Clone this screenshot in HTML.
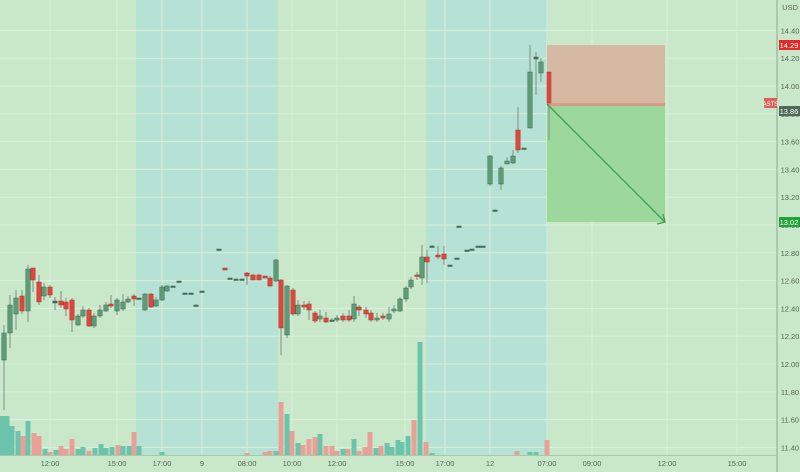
<!DOCTYPE html>
<html><head><meta charset="utf-8"><style>
html,body{margin:0;padding:0;background:#c9e8c9;}
svg{display:block;font-family:"Liberation Sans",sans-serif;}
</style></head><body>
<svg id="s" width="800" height="472" viewBox="0 0 800 472" xmlns="http://www.w3.org/2000/svg">
<rect width="800" height="472" fill="#c9e8c9"/>
<rect x="136" y="0" width="142" height="456" fill="#b5e2d4"/>
<rect x="426" y="0" width="122" height="456" fill="#b5e2d4"/>
<g id="grid" stroke="#daf0da" stroke-width="1"></g>
<g id="vol"></g>
<g id="cdl"></g>
<rect x="547" y="45" width="118" height="59" fill="#d6b9a3"/>
<rect x="547" y="103" width="118" height="3" fill="#d99a8a"/>
<rect x="547" y="106" width="118" height="116" fill="#9cd89c"/>
<line x1="547" y1="104" x2="665" y2="222" stroke="#3f9a4f" stroke-width="1.3"/>
<polyline points="657,224 665,222 663,214" fill="none" stroke="#3f9a4f" stroke-width="1.3"/>
<rect x="547" y="72" width="4" height="31" fill="#e0463c" stroke="#a33" stroke-width="0.5"/>
<line x1="549" y1="103" x2="549" y2="140" stroke="#888"/>
<line x1="777" y1="0" x2="777" y2="472" stroke="#8fa88f"/>
<line x1="0" y1="455.5" x2="777" y2="455.5" stroke="#a8c8a8"/>
<g font-size="7.5" fill="#556655" id="plab">
<text x="790" y="10" text-anchor="middle">USD</text>
</g>
<rect x="779" y="40" width="21" height="10" fill="#e02a2a"/>
<text x="789" y="48" font-size="7.5" fill="#fff" text-anchor="middle">14.29</text>
<rect x="764" y="98" width="13" height="10" fill="#e0605a"/>
<text x="770.5" y="106" font-size="6" fill="#fff" text-anchor="middle">ASTS</text>
<rect x="779" y="106" width="21" height="10" fill="#4f6a5a"/>
<text x="789" y="114" font-size="7.5" fill="#fff" text-anchor="middle">13.86</text>
<rect x="779" y="217" width="21" height="10" fill="#22a33a"/>
<text x="789" y="225" font-size="7.5" fill="#fff" text-anchor="middle">13.02</text>
<g font-size="7.5" fill="#556655" text-anchor="middle">
<text x="50" y="466">12:00</text><text x="117" y="466">15:00</text><text x="162" y="466">17:00</text>
<text x="202" y="466">9</text><text x="247" y="466">08:00</text><text x="292" y="466">10:00</text>
<text x="337" y="466">12:00</text><text x="405" y="466">15:00</text><text x="445" y="466">17:00</text>
<text x="490" y="466">12</text><text x="547" y="466">07:00</text><text x="592" y="466">09:00</text>
<text x="667" y="466">12:00</text><text x="737" y="466">15:00</text>
</g>
</svg>
<script>
var NS="http://www.w3.org/2000/svg";
function el(p,t,a){var e=document.createElementNS(NS,t);for(var k in a)e.setAttribute(k,a[k]);document.getElementById(p).appendChild(e);return e;}
var pl=document.getElementById('plab');
for(var i=0;i<16;i++){var p=14.4-i*0.2,y=86+(14-p)*139;
 if(y<455){el('grid','line',{x1:0,x2:777,y1:y,y2:y});
 var t=el('plab','text',{x:790,y:y+3,'text-anchor':'middle'});t.textContent=p.toFixed(2);}}
[50,117,162,202,247,292,337,405,445,490,547,592,667,737].forEach(function(x){el('grid','line',{x1:x,x2:x,y1:0,y2:456});});
var G='#5e9c78',R='#e0463c';
// x, top, bottom, color(g/r/d), wickTop, wickBot
var C=[[4,333,360,'g',325,410],[10,305,333,'g',295,348],[16,298,314,'g',290,330],[22,296,311,'r',290,314],[28,269,311,'g',265,322],[33,268,280,'r',268,292],[39,282,302,'r',275,305],[44,287,296,'g',283,300],[50,287,295,'r',285,298],[55,301,303,'d',297,310],[61,301,305,'r',291,308],[66,302,309,'r',298,316],[72,300,320,'r',298,332],[78,316,325,'g',314,326],[83,310,316,'g',306,318],[89,310,326,'r',308,327],[94,316,326,'g',313,328],[100,310,316,'g',305,318],[106,305,311,'g',302,312],[111,304,306,'r',295,308],[117,300,311,'g',298,315],[123,302,309,'g',294,311],[128,299,302,'g',296,303],[134,296,299,'r',294,306],[139,298,299,'d',298,299],[145,294,310,'g',293,311],[151,294,307,'r',293,308],[156,300,306,'g',297,307],[162,287,300,'g',285,301],[167,286,291,'g',285,292],[173,286,287,'d',286,287],[179,281,282,'d',281,282],[185,293,294,'d',293,294],[191,293,294,'d',293,294],[196,305,306,'d',305,306],[202,291,292,'d',291,292],[219,249,250,'d',249,250],[225,268,270,'r',268,270],[230,278,279,'d',278,279],[236,279,280,'d',279,280],[242,279,280,'d',279,280],[247,273,276,'r',272,285],[253,275,280,'r',274,280],[259,275,280,'r',274,280],[265,276,278,'r',276,278],[270,278,286,'r',276,287],[276,260,281,'g',259,282],[281,280,328,'r',279,355],[287,286,335,'g',285,338],[293,290,314,'r',288,316],[298,305,314,'g',300,316],[304,305,307,'r',301,310],[309,304,310,'r',301,320],[315,313,321,'r',311,323],[320,316,319,'g',310,322],[326,318,322,'r',312,323],[332,320,321,'d',318,322],[337,318,320,'g',315,322],[343,316,320,'r',313,322],[349,316,320,'r',310,322],[354,304,319,'g',296,322],[359,307,310,'r',305,316],[366,310,314,'r',307,318],[371,313,320,'r',310,322],[377,318,320,'g',313,322],[383,316,318,'r',313,320],[389,314,319,'g',307,322],[394,309,311,'g',305,313],[400,299,311,'g',297,312],[406,288,299,'g',286,302],[411,280,287,'g',277,289],[417,275,276,'r',272,280],[422,257,278,'g',245,285],[427,257,262,'r',250,283],[432,246,247,'d',245,248],[438,255,257,'r',246,259],[444,254,259,'r',246,265],[450,265,266,'d',265,266],[457,258,259,'d',258,259],[467,250,251,'d',250,251],[472,249,250,'d',249,250],[478,246,247,'d',246,247],[483,246,247,'d',246,247],[459,226,227,'d',226,227],[490,156,184,'g',155,186],[495,210,211,'d',210,211],[501,168,184,'g',166,190],[507,161,164,'g',157,164],[513,156,163,'g',150,164],[518,130,150,'r',107,153],[524,148,149,'d',148,149],[530,72,128,'g',45,128],[536,57,59,'d',52,95],[541,62,73,'g',58,82]];
C.forEach(function(c){var col=c[3]=='g'?G:(c[3]=='r'?R:'#4d6b5a');
 el('cdl','line',{x1:c[0],x2:c[0],y1:c[4],y2:c[5],stroke:'#7f8f85','stroke-width':1});
 el('cdl','rect',{x:c[0]-2.2,y:c[1],width:4.4,height:Math.max(1.5,c[2]-c[1]),fill:col,stroke:c[3]=='r'?'#a53a30':'#3d6b52','stroke-width':0.5});});
var V=[[2,416,'g'],[7,416,'g'],[12,426,'g'],[18,431,'g'],[23,436,'r'],[28,421,'g'],[34,433,'r'],[39,436,'r'],[45,449,'g'],[50,452,'r'],[56,450,'g'],[61,446,'r'],[66,449,'r'],[72,439,'r'],[78,449,'g'],[83,447,'g'],[89,451,'r'],[95,448,'g'],[101,444,'g'],[106,448,'g'],[112,447,'g'],[118,445,'r'],[123,446,'g'],[129,446,'g'],[134,432,'r'],[139,446,'g'],[162,452,'g'],[247,453,'r'],[265,452,'r'],[270,451,'r'],[276,451,'g'],[281,402,'r'],[287,414,'g'],[292,431,'r'],[298,443,'g'],[303,445,'r'],[309,439,'r'],[315,437,'r'],[320,434,'g'],[326,446,'r'],[332,446,'r'],[337,451,'r'],[343,449,'g'],[348,449,'r'],[354,439,'g'],[359,451,'r'],[365,447,'r'],[370,432,'r'],[376,448,'g'],[381,446,'r'],[387,443,'g'],[392,447,'g'],[398,440,'g'],[402,442,'g'],[408,436,'g'],[414,420,'r'],[420,342,'g'],[426,442,'r'],[432,453,'g'],[517,451,'r'],[530,452,'g'],[536,452,'g'],[547,440,'r']];
V.forEach(function(v){el('vol','rect',{x:v[0]-2.5,y:v[1],width:5,height:455-v[1],fill:v[2]=='g'?'#6cc4ad':'#e8a097'});});
</script>
</body></html>
